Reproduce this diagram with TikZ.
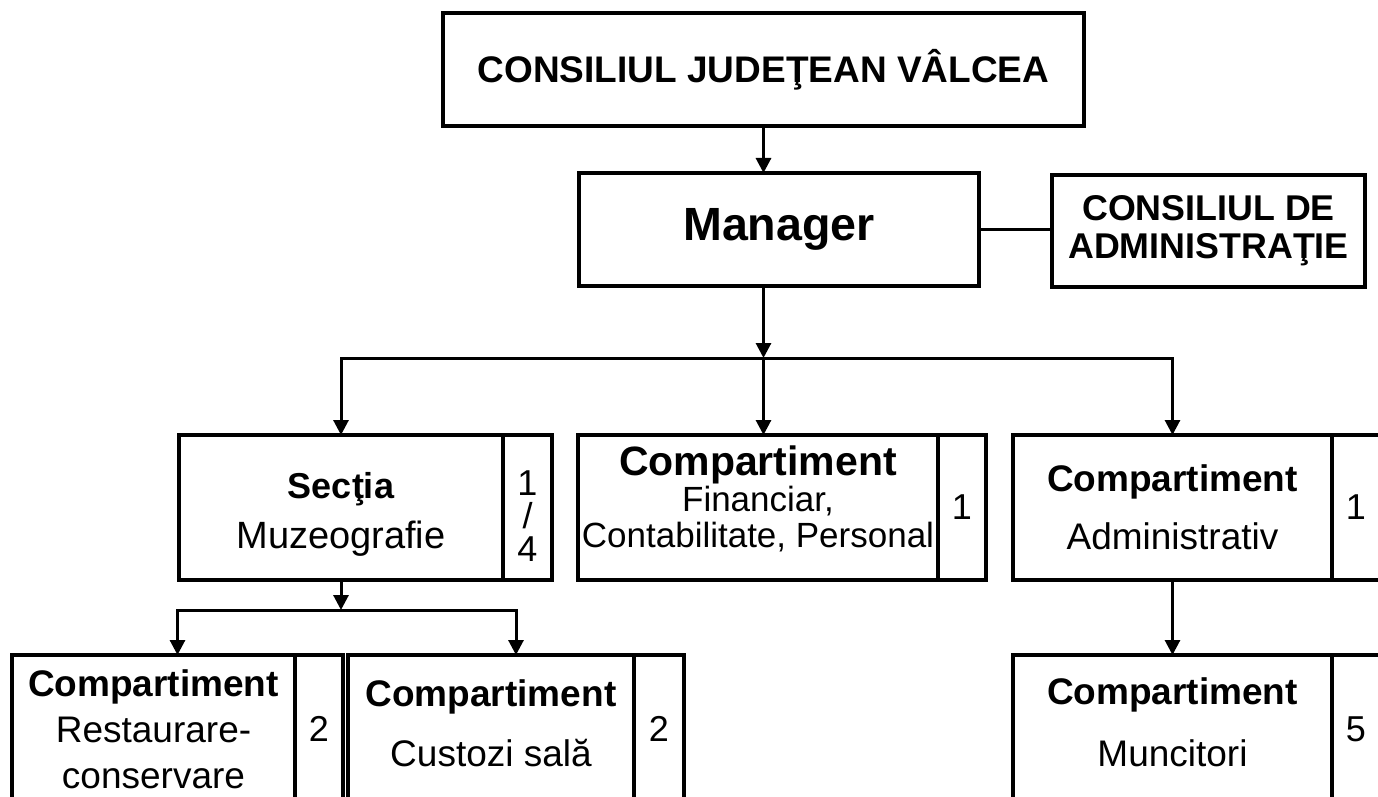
\documentclass[tikz,border=0pt]{standalone}
\usepackage{fontspec}
\setmainfont{Liberation Sans}
\usetikzlibrary{positioning,calc,arrows.meta}
\newcommand{\lowpad}[1]{\rule[-#1]{0pt}{0pt}}
\newcommand{\uppad}[1]{\rule{0pt}{#1}}

\begin{document}
\begin{tikzpicture}[->, >={Triangle[length=7.5pt,width=7.5pt]}, line width=1.5pt, x=0.5pt, y=-0.5pt]
\tikzstyle{unit}=[draw=black,line width=1.6pt,inner sep=0pt,outer sep=0pt,align=center,text=black]
\tikzstyle{sub}=[unit,minimum height=72.5pt]
\tikzstyle{leaf}=[unit,minimum height=100pt]
\tikzstyle{num}=[unit,minimum width=24pt,font=\fontsize{18}{16.5}\selectfont]
\useasboundingbox (0,0) rectangle (1378,797);
\node[unit,minimum width=320.5pt,minimum height=56.5pt,font=\fontsize{18.5}{22}\selectfont\bfseries] (cj) at (763.5,69.5) {CONSILIUL JUDEŢEAN VÂLCEA};
\node[unit,minimum width=200pt,minimum height=56.5pt,font=\fontsize{23.3}{26}\selectfont\bfseries] (man) at (779,229.5) {Manager};
\node[unit,minimum width=156.5pt,minimum height=56pt,font=\fontsize{17.9}{19}\selectfont\bfseries] (ca) at (1208.5,231) {CONSILIUL DE\\ADMINISTRAŢIE};
% nivelul 2
\node[sub,minimum width=162pt,font=\fontsize{18.5}{25}\selectfont] (sec) at (341,507.5) {{\fontsize{18}{25}\selectfont\bfseries\uppad{19.5pt}Secţia}\\{\fontsize{19}{25}\selectfont Muzeografie}};
\node[num,minimum height=72.5pt,minimum width=24.5pt] (secn) [right=0pt of sec] {\uppad{21pt}1\\/\\4};
\node[sub,minimum width=180pt,font=\fontsize{17.5}{18}\selectfont] (fin) at (758,507.5) {{\fontsize{20.5}{18}\selectfont\bfseries Compartiment}\\Financiar,\\Contabilitate, Personal\lowpad{11pt}};
\node[num,minimum height=72.5pt] (finn) [right=0pt of fin] {1};
\node[sub,minimum width=159.5pt,font=\fontsize{18.5}{29}\selectfont] (adm) at (1172.5,507.5) {{\bfseries Compartiment}\\Administrativ};
\node[num,minimum height=72.5pt] (admn) [right=0pt of adm] {1};
% nivelul 3
\node[leaf,minimum width=141.5pt,font=\fontsize{18.5}{23}\selectfont] (rest) at (153.5,755) {{\bfseries Compartiment}\\Restaurare-\\conservare\lowpad{25.5pt}};
\node[num,minimum height=100pt] (restn) [right=0pt of rest] {2\lowpad{26pt}};
\node[leaf,minimum width=143pt,font=\fontsize{18.5}{30}\selectfont] (cus) at (491,755) {{\bfseries Compartiment}\\Custozi sală\lowpad{31.5pt}};
\node[num,minimum height=100pt,minimum width=25pt] (cusn) [right=0pt of cus] {2\lowpad{26pt}};
\node[leaf,minimum width=159.5pt,font=\fontsize{18.5}{31}\selectfont] (mun) at (1172.5,755) {{\bfseries Compartiment}\\Muncitori\lowpad{32.5pt}};
\node[num,minimum height=100pt] (munn) [right=0pt of mun] {5\lowpad{26pt}};
\coordinate (b2) at (0,358);
\coordinate (b3) at (0,610);
\coordinate (rtop) at ($(rest.north west)!.5!(restn.north east)$);
\coordinate (ctop) at ($(cus.north west)!.5!(cusn.north east)$);
\draw (cj.south) -- (cj.south |- man.north);
\draw[-] (man.east) -- (man.east -| ca.west);
\draw (cj.south |- man.south) -- (cj.south |- b2);
\draw[<->] (sec.north) -- (sec.north |- b2) -- (adm.north |- b2) -- (adm.north);
\draw (cj.south |- b2) -- (cj.south |- fin.north);
\draw (sec.south) -- (sec.south |- b3);
\draw[<->] (rtop) -- (rtop |- b3) -- (ctop |- b3) -- (ctop);
\draw (adm.south) -- (mun.north);
\end{tikzpicture}
\end{document}
